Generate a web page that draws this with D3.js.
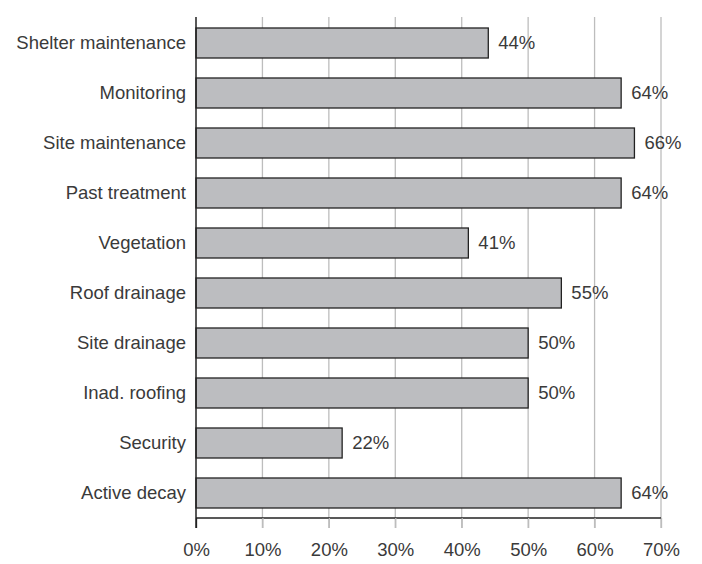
<!DOCTYPE html>
<html>
  <head>
    <title>Bar chart</title>
    <script src="https://d3js.org/d3.v7.min.js"></script>
    <style>
      body { margin: 0; background: #fff; }
      text { font-family: "Liberation Sans", Arial, sans-serif; fill: #3a3a3a; }
    </style>
  </head>
  <body>
    <svg width="702" height="564"></svg>
    <script>
      const categories = ["Shelter maintenance", "Monitoring", "Site maintenance", "Past treatment",
        "Vegetation", "Roof drainage", "Site drainage", "Inad. roofing", "Security", "Active decay"];
      const values = [44, 64, 66, 64, 41, 55, 50, 50, 22, 64];
      const ticks = [0, 10, 20, 30, 40, 50, 60, 70];

      const data = categories.map((c, i) => ({ name: c, value: values[i] }));

      const svg = d3.select("svg");
      const mLeft = 196, mRight = 661, mTop = 18, mBottom = 518;
      const fontSize = 18.5;

      const x = d3.scaleLinear().domain([0, 70]).range([mLeft, mRight]);
      const y = d3.scaleBand()
        .domain(categories)
        .range([mTop, mBottom])
        .paddingInner(0.4)
        .paddingOuter(0.2);

      // gridlines
      svg.append("g")
        .selectAll("line")
        .data(ticks.slice(1))
        .enter().append("line")
          .attr("x1", d => x(d)).attr("x2", d => x(d))
          .attr("y1", mTop - 1).attr("y2", mBottom + 10)
          .attr("stroke", "#bdbdbd")
          .attr("stroke-width", 1.3);

      // bars
      svg.append("g")
        .selectAll("rect")
        .data(data)
        .enter().append("rect")
          .attr("x", x(0))
          .attr("y", d => y(d.name))
          .attr("width", d => x(d.value) - x(0))
          .attr("height", y.bandwidth())
          .attr("fill", "#bcbdc0")
          .attr("stroke", "#222")
          .attr("stroke-width", 1.3);

      // value labels
      svg.append("g")
        .selectAll("text")
        .data(data)
        .enter().append("text")
          .attr("x", d => x(d.value) + 10)
          .attr("y", d => y(d.name) + y.bandwidth() / 2)
          .attr("dy", "0.35em")
          .attr("font-size", fontSize)
          .text(d => d.value + "%");

      // category labels
      svg.append("g")
        .selectAll("text")
        .data(data)
        .enter().append("text")
          .attr("x", mLeft - 10)
          .attr("y", d => y(d.name) + y.bandwidth() / 2)
          .attr("dy", "0.35em")
          .attr("text-anchor", "end")
          .attr("font-size", fontSize)
          .text(d => d.name);

      // x axis
      const xAxis = svg.append("g")
        .attr("transform", `translate(0,${mBottom})`)
        .call(d3.axisBottom(x).tickValues(ticks).tickSize(10).tickPadding(15).tickFormat(d => d + "%"));
      xAxis.select(".domain").attr("stroke", "#222").attr("stroke-width", 1.3).attr("d", `M${mLeft},0H${mRight}`);
      xAxis.selectAll(".tick line").attr("stroke", "#222").attr("stroke-width", 1.3);
      xAxis.selectAll(".tick text").attr("font-size", fontSize).attr("fill", "#3a3a3a")
        .style("font-family", '"Liberation Sans", Arial, sans-serif');
      xAxis.selectAll(".tick").filter(d => d > 0).select("line").attr("stroke", "#bdbdbd");

      // y axis line
      svg.append("line")
        .attr("x1", mLeft).attr("x2", mLeft)
        .attr("y1", mTop - 1).attr("y2", mBottom + 10)
        .attr("stroke", "#222")
        .attr("stroke-width", 1.5);
    </script>
  </body>
</html>
